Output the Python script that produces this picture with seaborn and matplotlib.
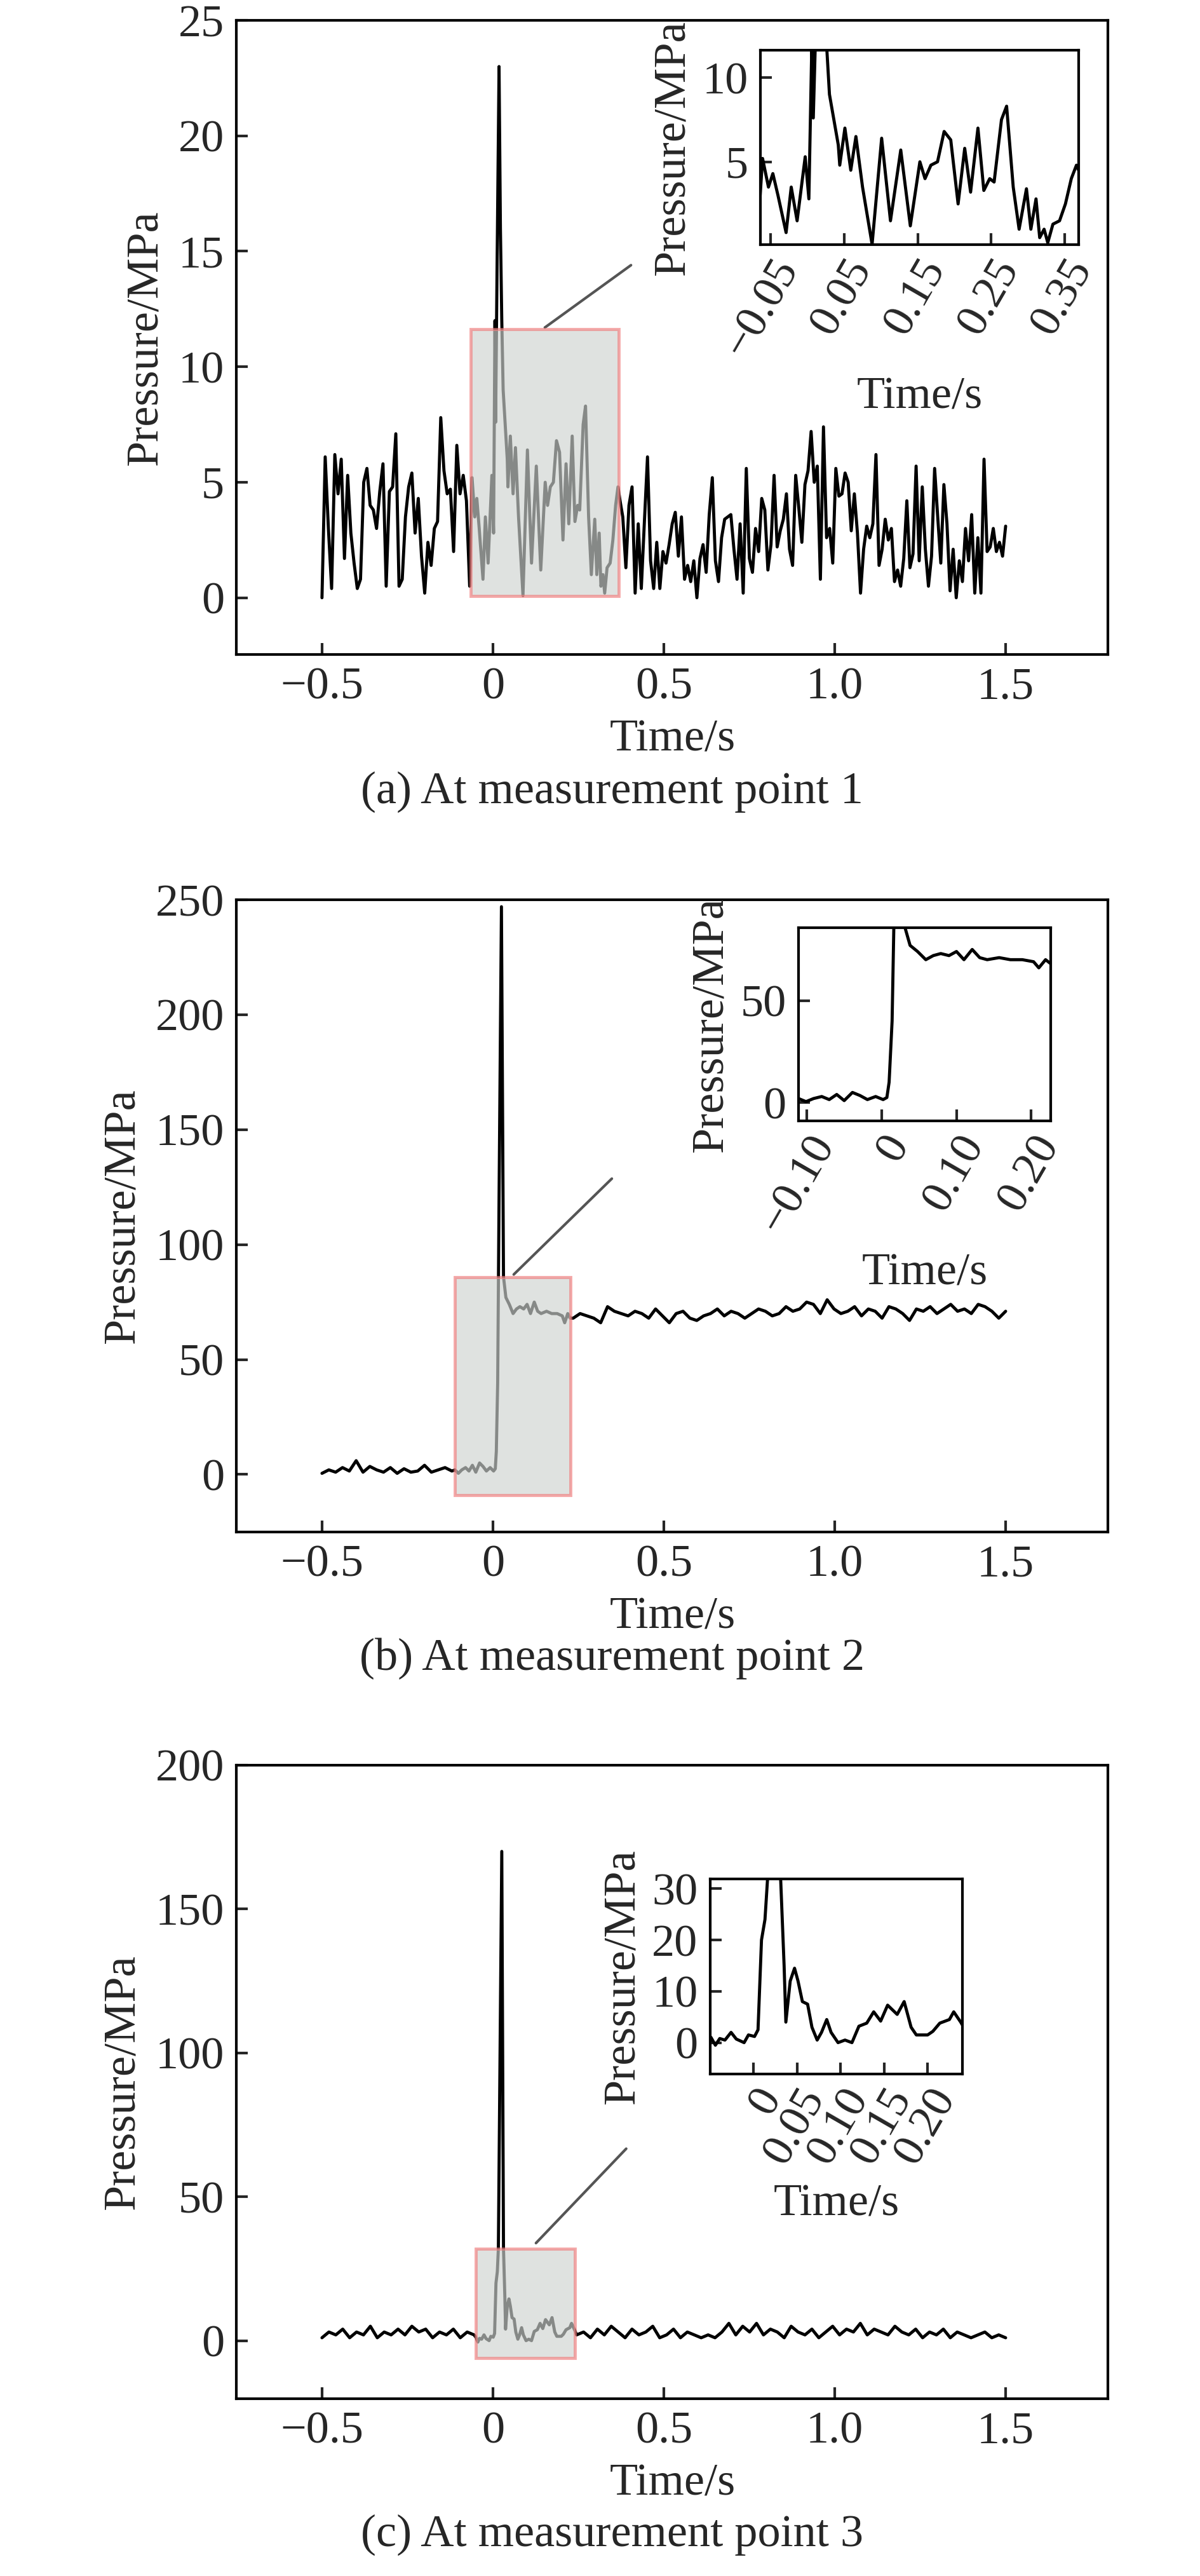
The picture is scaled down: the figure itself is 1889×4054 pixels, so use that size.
import numpy as np
import pandas as pd
import matplotlib
matplotlib.use("Agg")
import matplotlib.pyplot as plt
import seaborn as sns
from matplotlib.patches import Rectangle

sns.set_style("white")
plt.rcParams["font.family"] = ["Liberation Serif", "DejaVu Serif"]
plt.rcParams["font.size"] = 52

# ---------------- data ----------------
# measurement point 1
a_pre = [0, 6.1, 3, 0.4, 6.2, 4.5, 6.0, 1.7, 5.3, 2.8, 1.5, 0.4, 0.8, 5.0, 5.6, 4.0,
         3.8, 3.0, 4.6, 5.8, 0.5, 4.6, 4.8, 7.1, 0.5, 0.8, 3.5, 4.8, 5.4, 2.8, 4.3, 1.8,
         0.2, 2.4, 1.4, 3.0, 3.3, 7.8, 5.5, 4.5, 4.7, 2.0, 6.6, 4.5, 5.3, 4.2, 0.5]
a_win_t = [-0.061, -0.053, -0.047, -0.040, -0.029, -0.022, -0.014, -0.003, 0.002, 0.006,
           0.008, 0.012, 0.018, 0.022, 0.026, 0.030, 0.042, 0.044, 0.051, 0.059, 0.066,
           0.075, 0.088, 0.101, 0.113, 0.127, 0.140, 0.153, 0.160, 0.168, 0.177, 0.186,
           0.195, 0.205, 0.214, 0.222, 0.232, 0.240, 0.248, 0.254, 0.264, 0.271, 0.280,
           0.288, 0.298, 0.304, 0.311, 0.316, 0.322, 0.327, 0.334, 0.343, 0.351, 0.359,
           0.366, 0.372]
a_win_p = [5.2, 3.5, 4.3, 3.0, 0.8, 3.5, 1.5, 5.3, 2.8, 12, 7.6, 14, 23.0, 16, 12, 9, 6.0,
           4.8, 7.0, 4.5, 6.5, 3.5, 0.1, 6.4, 1.5, 5.7, 1.2, 5.0, 4.0, 4.8, 5.0, 6.8, 6.3,
           2.5, 5.8, 3.2, 7.0, 3.3, 4.0, 3.8, 7.5, 8.3, 3.5, 1.0, 3.4, 1.0, 2.8, 0.5, 1.0,
           0.2, 1.3, 1.5, 2.5, 4.0, 4.8, 4.2]
a_post = [3.5, 1.3, 4.0, 4.8, 0.2, 3.2, 0.4, 3.3, 6.1, 1.6, 0.4, 2.4, 0.4, 2.0, 1.5, 2.3,
          3.2, 3.7, 1.8, 3.5, 0.8, 1.4, 0.7, 1.6, 0.0, 1.7, 2.3, 1.1, 3.6, 5.2, 1.6, 0.7,
          2.6, 3.4, 3.5, 3.6, 2.1, 0.8, 3.2, 0.2, 5.6, 1.7, 1.1, 3.0, 2.0, 4.3, 3.8, 1.2,
          2.3, 5.3, 2.2, 2.9, 3.4, 4.5, 2.1, 1.4, 5.3, 3.9, 2.4, 4.9, 5.5, 7.2, 5.0, 5.7,
          0.8, 7.4, 2.6, 3.0, 1.5, 5.6, 4.4, 4.5, 5.4, 5.0, 2.9, 4.5, 2.8, 0.2, 2.1, 3.1,
          2.6, 3.2, 6.2, 1.4, 2.1, 3.4, 2.5, 3.0, 0.7, 1.2, 0.5, 1.7, 4.2, 1.3, 1.9, 5.7,
          1.6, 4.8, 2.1, 0.5, 1.8, 5.6, 3.5, 1.5, 4.9, 3.2, 0.3, 2.1, 0.0, 1.6, 0.7, 3.0,
          1.6, 3.6, 0.2, 2.6, 0.2, 6.0, 2.0, 2.2, 3.0, 2.0, 2.4, 1.8, 3.1]

# measurement point 2
b_pre = [0.5, 2, 1, 3, 1.5, 6, 1, 3.5, 2, 1, 3, 0.5, 2.5, 1, 1.5, 4, 1, 2, 3, 1.5]
b_win_t = [-0.111, -0.101, -0.091, -0.080, -0.070, -0.060, -0.050, -0.039, -0.029, -0.019,
           -0.008, 0.002, 0.007, 0.010, 0.014, 0.018, 0.025, 0.031, 0.038, 0.048, 0.059,
           0.069, 0.079, 0.090, 0.100, 0.110, 0.121, 0.131, 0.141, 0.157, 0.172, 0.188,
           0.203, 0.210, 0.219, 0.226]
b_win_p = [2, 0.5, 2, 3, 1.5, 4, 1, 5, 3.5, 1.5, 3, 1.5, 2.5, 10, 40, 120, 247, 86, 77, 74,
           70, 72, 73, 72, 74, 70, 75, 71, 70, 71, 70, 70, 69, 66, 70, 68]
b_post = [68, 70, 69, 68, 66, 73, 71, 70, 69, 71, 70, 68, 72, 69, 66, 70, 71, 68, 67, 69,
          70, 72, 69, 71, 70, 68, 70, 72, 71, 69, 70, 73, 71, 72, 75, 74, 70, 76, 72, 70,
          71, 73, 69, 72, 71, 68, 73, 72, 70, 67, 72, 71, 73, 70, 72, 74, 71, 72, 70, 74,
          73, 71, 68, 71]

# measurement point 3
c_pre = [1, 3, 2, 4, 1, 3, 2, 5, 1, 3, 2, 4, 2, 5, 3, 4, 1, 3, 2, 4, 1, 3, 2]
c_win_t = [-0.049, -0.044, -0.039, -0.033, -0.026, -0.020, -0.011, -0.006, 0.001, 0.005,
           0.009, 0.013, 0.016, 0.026, 0.031, 0.035, 0.037, 0.042, 0.047, 0.051, 0.056,
           0.062, 0.067, 0.073, 0.078, 0.084, 0.089, 0.097, 0.105, 0.113, 0.121, 0.130,
           0.138, 0.146, 0.154, 0.165, 0.173, 0.181, 0.187, 0.200, 0.206, 0.214, 0.225,
           0.230, 0.238]
c_win_p = [1.0, -0.5, 0.8, 0.5, 2.0, 0.7, 0.0, 1.5, 1.2, 2.5, 20, 24, 32, 170, 32, 15, 4,
           12, 14.5, 12, 8, 7.5, 3, 0.5, 2, 4.5, 2, 0, 0.5, 0, 3.2, 3.8, 6, 4.2, 7.3, 5.5,
           8, 3, 1.5, 1.5, 2.2, 3.8, 4.5, 6.0, 4.0]
c_post = [2, 3, 1, 4, 2, 5, 3, 1, 4, 2, 3, 5, 1, 2, 4, 1, 3, 2, 1, 2, 1, 3, 6, 2, 5, 3, 6,
          2, 4, 3, 1, 5, 3, 2, 4, 1, 3, 5, 2, 4, 3, 6, 2, 4, 3, 2, 5, 3, 2, 4, 1, 3, 2, 4,
          1, 3, 2, 1, 2, 3, 1, 2, 1]


def series(pre, pre_span, win_t, win_p, post, post_span):
    t = np.concatenate([np.linspace(*pre_span, len(pre)), win_t,
                        np.linspace(*post_span, len(post))])
    p = np.concatenate([pre, win_p, post])
    return pd.DataFrame({"t": t, "p": p})


df_a = series(a_pre, (-0.5, -0.068), a_win_t, a_win_p, a_post, (0.38, 1.5))
df_b = series(b_pre, (-0.5, -0.12), b_win_t, b_win_p, b_post, (0.235, 1.5))
df_c = series(c_pre, (-0.5, -0.055), c_win_t, c_win_p, c_post, (0.245, 1.5))

panels = [
    dict(df=df_a, pos=[0.197, 0.7459, 0.726, 0.2462], ylim=(-2.46, 25), yt=[0, 5, 10, 15, 20, 25],
         ins=[0.6333, 0.9050, 0.2651, 0.0755], ixl=(-0.064, 0.369), iyl=(0.08, 11.62),
         ixt=[-0.05, 0.05, 0.15, 0.25, 0.35], ixtl=["\u22120.05", "0.05", "0.15", "0.25", "0.35"],
         iyt=[5, 10], line=[(0.152, 11.7), (0.404, 14.4)],
         cap="(a) At measurement point 1", capy=0.6845),
    dict(df=df_b, pos=[0.197, 0.4053, 0.726, 0.2454], ylim=(-25, 250), yt=[0, 50, 100, 150, 200, 250],
         ins=[0.6651, 0.5649, 0.2101, 0.0750], ixl=(-0.111, 0.226), iyl=(-8.9, 85.7),
         ixt=[-0.10, 0, 0.10, 0.20], ixtl=["\u22120.10", "0", "0.10", "0.20"],
         iyt=[0, 50], line=[(0.061, 87), (0.348, 128.7)],
         cap="(b) At measurement point 2", capy=0.3481),
    dict(df=df_c, pos=[0.197, 0.0688, 0.726, 0.2460], ylim=(-20.2, 200), yt=[0, 50, 100, 150, 200],
         ins=[0.5915, 0.1949, 0.2101, 0.0757], ixl=(-0.05, 0.24), iyl=(-6.1, 31.9),
         ixt=[0, 0.05, 0.10, 0.15, 0.20], ixtl=["0", "0.05", "0.10", "0.15", "0.20"],
         iyt=[0, 10, 20, 30], line=[(0.126, 33.9), (0.39, 66.7)],
         cap="(c) At measurement point 3", capy=0.0079),
]

fig = plt.figure(figsize=(18.9, 40.54), dpi=100)


def style(ax):
    for s in ax.spines.values():
        s.set_linewidth(3)
        s.set_color("black")
    ax.tick_params(direction="in", length=13, width=3, top=False, right=False,
                   left=True, bottom=True, pad=14)


for pn in panels:
    ax = fig.add_axes(pn["pos"])
    sns.lineplot(data=pn["df"], x="t", y="p", sort=False, estimator=None,
                 color="black", lw=3.5, ax=ax)
    ax.set_xlim(-0.75, 1.8)
    ax.set_ylim(*pn["ylim"])
    ax.set_xticks([-0.5, 0, 0.5, 1.0, 1.5])
    ax.set_xticklabels(["\u22120.5", "0", "0.5", "1.0", "1.5"])
    ax.set_yticks(pn["yt"])
    ax.set_xlabel("Time/s", labelpad=12)
    ax.set_ylabel("Pressure/MPa", labelpad=14)
    style(ax)
    # zoom window
    x0, x1 = pn["ixl"]
    y0, y1 = pn["iyl"]
    ax.add_patch(Rectangle((x0, y0), x1 - x0, y1 - y0, facecolor="#cfd3d0", alpha=0.65,
                           edgecolor="#f07c7c", lw=3.5, zorder=5))
    (lx0, ly0), (lx1, ly1) = pn["line"]
    ax.plot([lx0, lx1], [ly0, ly1], color="#555555", lw=3)

    ia = fig.add_axes(pn["ins"])
    sns.lineplot(data=pn["df"], x="t", y="p", sort=False, estimator=None,
                 color="black", lw=3.5, ax=ia)
    ia.set_xlim(x0, x1)
    ia.set_ylim(y0, y1)
    ia.set_xticks(pn["ixt"])
    ia.set_xticklabels(pn["ixtl"], rotation=60, ha="right", rotation_mode="anchor")
    ia.set_yticks(pn["iyt"])
    ia.set_xlabel("Time/s", labelpad=14)
    ia.set_ylabel("Pressure/MPa", labelpad=10)
    style(ia)
    ia.tick_params(axis="x", pad=8)

    fig.text(0.51, pn["capy"], pn["cap"], ha="center", va="bottom", fontsize=52)

fig.savefig("out.png", dpi=100)
